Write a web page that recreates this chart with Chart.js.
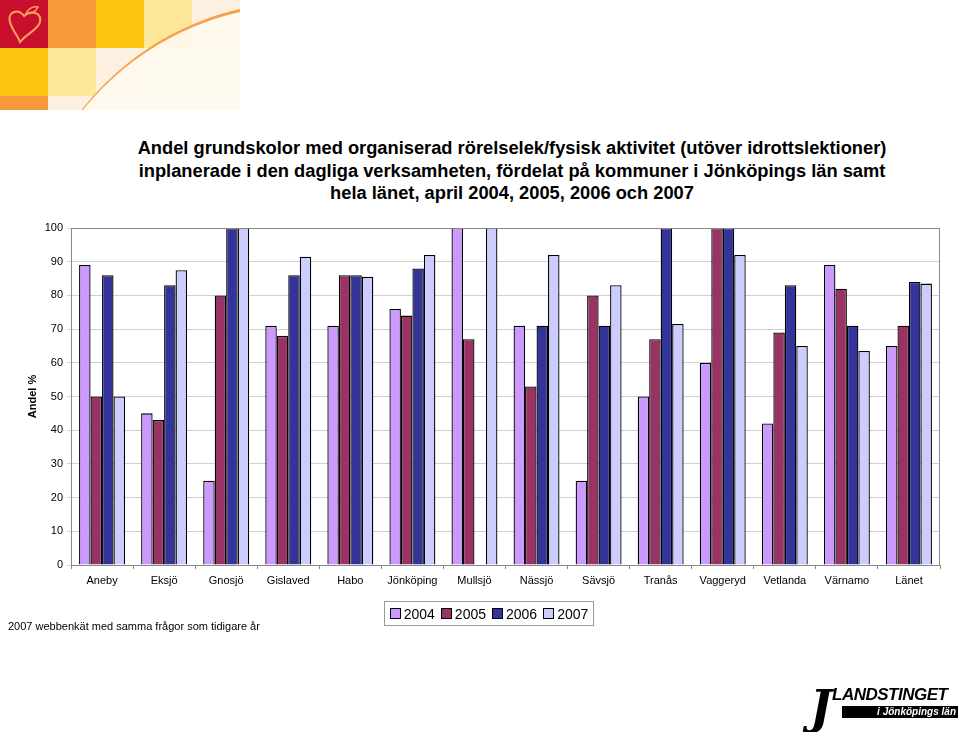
<!DOCTYPE html>
<html lang="sv">
<head>
  <meta charset="UTF-8">
  <title>Andel grundskolor med organiserad rörelselek</title>
  <script src="https://cdn.jsdelivr.net/npm/chart.js"></script>
  <style>
    body {
      margin: 0;
      width: 960px;
      height: 732px;
      position: relative;
      overflow: hidden;
      background: #fff;
      font-family: "Liberation Sans", Arial, sans-serif;
    }
    .deco { position: absolute; left: 0; top: 0; width: 240px; height: 110px; overflow: hidden; }
    .deco div.cell { position: absolute; width: 48px; height: 48px; }
    .arc {
      position: absolute; left: 22px; top: 2px; width: 560px; height: 560px;
      border-radius: 50%; background: rgba(255, 250, 238, 0.92); border-top: 3px solid #f6a04a;
    }
    h1 {
      position: absolute;
      top: 137px;
      left: 62px;
      width: 900px;
      margin: 0;
      text-align: center;
      font-size: 18.3px;
      line-height: 22.5px;
      font-weight: bold;
      color: #000;
      white-space: nowrap;
    }
    .chart-container {
      position: absolute;
      left: 0;
      top: 0;
      width: 960px;
      height: 732px;
    }
    .legend {
      position: absolute;
      left: 384px;
      top: 601px;
      width: 208px;
      height: 23px;
      border: 1px solid #999;
      display: flex;
      align-items: center;
      justify-content: center;
      gap: 6px;
      font-size: 14px;
    }
    .legend span.box {
      display: inline-block; width: 9px; height: 9px; border: 1px solid #000; margin-right: 3px;
    }
    .note {
      position: absolute;
      left: 8px;
      top: 620px;
      font-size: 11px;
      color: #000;
    }
    .logo {
      position: absolute; left: 808px; top: 684px; width: 150px; height: 46px;
      font-style: italic; font-weight: bold;
    }
    .logo .j { position: absolute; left: 2px; top: -4px; font-size: 46px; font-family: "DejaVu Serif", serif; }
    .logo .big { position: absolute; left: 24px; top: 1px; font-size: 17px; letter-spacing: -0.5px; }
    .logo .small { position: absolute; left: 34px; top: 22px; width: 116px; height: 12px; background: #000; color: #fff; font-size: 10px; text-align: right; padding-right: 2px; line-height: 12px; box-sizing: border-box; }
  </style>
</head>
<body>
  <div class="deco">
    <div class="cell" style="left:0;top:0;background:#c8102e"></div>
    <div class="cell" style="left:48px;top:0;background:#f7983a"></div>
    <div class="cell" style="left:96px;top:0;background:#fdc613"></div>
    <div class="cell" style="left:144px;top:0;background:#fde79a"></div>
    <div class="cell" style="left:192px;top:0;background:#fdf0e0"></div>
    <div class="cell" style="left:0;top:48px;background:#fdc613"></div>
    <div class="cell" style="left:48px;top:48px;background:#fde79a"></div>
    <div class="cell" style="left:96px;top:48px;background:#fdf0e0"></div>
    <div class="cell" style="left:0;top:96px;background:#f7983a"></div>
    <div class="cell" style="left:48px;top:96px;background:#fdf0e0"></div>
    <div class="arc"></div>
    <svg style="position:absolute;left:4px;top:4px" width="40" height="40" viewBox="0 0 40 40">
      <path d="M20 12 C14 4 3 8 6 18 C8 26 14 32 16 38 C22 30 34 26 36 18 C38 8 26 6 20 12 Z" fill="none" stroke="#f7a35c" stroke-width="2"/>
      <path d="M22 10 C24 4 30 2 34 3 C32 8 26 10 22 10 Z" fill="none" stroke="#f7a35c" stroke-width="1.5"/>
    </svg>
  </div>

  <h1>Andel grundskolor med organiserad rörelselek/fysisk aktivitet (utöver idrottslektioner)<br>inplanerade i den dagliga verksamheten, fördelat på kommuner i Jönköpings län samt<br>hela länet, april 2004, 2005, 2006 och 2007</h1>

  <div class="chart-container">
    <canvas id="barChart"></canvas>
  </div>

  <div class="legend" id="legend"></div>
  <div class="note">2007 webbenkät med samma frågor som tidigare år</div>

  <div class="logo">
    <span class="j">J</span>
    <span class="big">LANDSTINGET</span>
    <span class="small">i Jönköpings län</span>
  </div>

  <script>
    const kommuner = ["Aneby", "Eksjö", "Gnosjö", "Gislaved", "Habo", "Jönköping", "Mullsjö", "Nässjö", "Sävsjö", "Tranås", "Vaggeryd", "Vetlanda", "Värnamo", "Länet"];
    const years = ["2004", "2005", "2006", "2007"];
    const colors = ["#cc99ff", "#993366", "#333399", "#ccccff"];

    // Andel % per kommun och år
    const v2004 = [89, 45, 25, 71, 71, 76, 100, 71, 25, 50, 60, 42, 89, 65];
    const v2005 = [50, 43, 80, 68, 86, 74, 67, 53, 80, 67, 100, 69, 82, 71];
    const v2006 = [86, 83, 100, 86, 86, 88, null, 71, 71, 100, 100, 83, 71, 84];
    const v2007 = [50, 87.5, 100, 91.5, 85.5, 92, 100, 92, 83, 71.5, 92, 65, 63.5, 83.5];
    const series = [v2004, v2005, v2006, v2007];

    const ctx = document.getElementById('barChart').getContext('2d');
    Chart.defaults.font.family = '"Liberation Sans", Arial, sans-serif';
    Chart.defaults.color = '#000';

    new Chart(ctx, {
      type: 'bar',
      data: {
        labels: kommuner,
        datasets: years.map((y, i) => ({
          label: y,
          data: series[i],
          backgroundColor: colors[i],
          borderColor: '#000',
          borderWidth: 1.3,
          categoryPercentage: 0.74,
          barPercentage: 1
        }))
      },
      options: {
        responsive: true,
        maintainAspectRatio: false,
        animation: false,
        layout: { padding: { left: 26, right: 20, top: 228, bottom: 141 } },
        plugins: {
          legend: { display: false },
          tooltip: { enabled: false }
        },
        scales: {
          x: {
            afterFit: s => { s.height = 26; },
            grid: { display: true, drawOnChartArea: false, offset: true, tickLength: 4, color: '#888' },
            border: { color: '#888' },
            ticks: { font: { size: 11 }, padding: 5, maxRotation: 0, autoSkip: false }
          },
          y: {
            min: 0,
            max: 100,
            afterFit: s => { s.width = 45; },
            ticks: { stepSize: 10, font: { size: 11 }, padding: 4 },
            grid: { color: '#d0d0d0', tickLength: 4 },
            border: { color: '#888' },
            title: { display: true, text: 'Andel %', font: { size: 11, weight: 'bold' }, padding: { top: 0, bottom: 0 } }
          }
        }
      },
      plugins: [{
        id: 'frame',
        afterDraw(chart) {
          const a = chart.chartArea, c = chart.ctx;
          c.save();
          c.strokeStyle = '#888';
          c.lineWidth = 1;
          c.strokeRect(a.left + 0.5, a.top + 0.5, a.right - a.left - 1, a.bottom - a.top);
          c.restore();
        }
      }]
    });

    const legend = document.getElementById('legend');
    years.forEach((y, i) => {
      const item = document.createElement('span');
      item.innerHTML = '<span class="box" style="background:' + colors[i] + '"></span>' + y;
      legend.appendChild(item);
    });
  </script>
</body>
</html>
